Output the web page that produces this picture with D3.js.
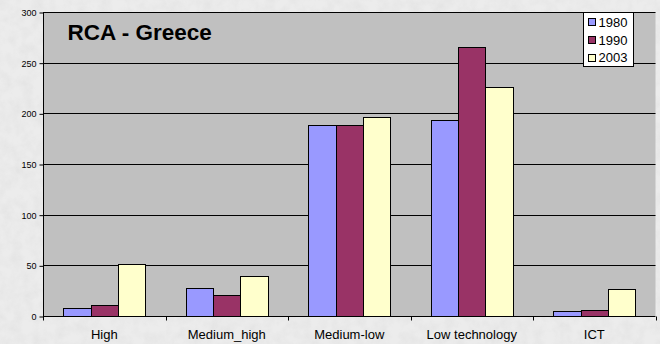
<!DOCTYPE html>
<html>
<head>
<meta charset="utf-8">
<script src="https://cdn.jsdelivr.net/npm/d3@7"></script>
<style>
html,body{margin:0;padding:0;background:#e8e8e8;}
svg{display:block;}
text{font-family:Arial,"Liberation Sans",sans-serif;}
</style>
</head>
<body>
<svg id="chart" width="660" height="344"></svg>
<script>
const categories = ["High", "Medium_high", "Medium-low", "Low technology", "ICT"];
const seriesNames = ["1980", "1990", "2003"];
const values1980 = [7.5, 28, 188.5, 193, 5];
const values1990 = [11, 20.5, 188, 265, 5.5];
const values2003 = [51, 39, 196, 225.5, 26.5];
const yTicks = [0, 50, 100, 150, 200, 250, 300];
const colors = ["#9999FF", "#993366", "#FFFFCC"];
const title = "RCA - Greece";

const series = [values1980, values1990, values2003];
const W = 660, H = 344;
const plot = {left: 43, right: 655.5, top: 12, bottom: 316};

const svg = d3.select("#chart");

// textured background
const defs = svg.append("defs");
const f = defs.append("filter").attr("id", "tex").attr("x", 0).attr("y", 0).attr("width", 1).attr("height", 1);
f.append("feTurbulence").attr("type", "fractalNoise").attr("baseFrequency", 0.09).attr("numOctaves", 3).attr("seed", 4).attr("result", "n");
f.append("feColorMatrix").attr("in", "n").attr("type", "matrix")
  .attr("values", "0 0 0 0 0.55  0 0 0 0 0.55  0 0 0 0 0.55  0.6 0 0 0 -0.2")
  .attr("result", "c");
svg.append("rect").attr("width", W).attr("height", H).attr("fill", "#ececec");
svg.append("rect").attr("width", W).attr("height", H).attr("fill", "#fff").attr("filter", "url(#tex)").attr("opacity", 0.55);

const x0 = d3.scaleBand().domain(categories).range([plot.left, plot.right]).paddingInner(0).paddingOuter(0);
const bw = x0.bandwidth() / 4.5;
const y = d3.scaleLinear().domain([0, 300]).range([plot.bottom, plot.top]);

// plot area
svg.append("rect").attr("x", plot.left).attr("y", plot.top)
  .attr("width", plot.right - plot.left).attr("height", plot.bottom - plot.top)
  .attr("fill", "#C0C0C0");

// gridlines
svg.append("g").selectAll("line").data(yTicks.filter(d => d > 0)).join("line")
  .attr("x1", plot.left).attr("x2", plot.right)
  .attr("y1", d => Math.round(y(d)) + 0.5).attr("y2", d => Math.round(y(d)) + 0.5)
  .attr("stroke", "#000").attr("stroke-width", 1);

// bars
const g = svg.append("g");
categories.forEach((c, i) => {
  series.forEach((s, j) => {
    const x = x0(c) + bw * 0.75 + j * bw;
    g.append("rect")
      .attr("x", Math.round(x) + 0.5)
      .attr("y", Math.round(y(s[i])) + 0.5)
      .attr("width", Math.round(x + bw) - Math.round(x))
      .attr("height", Math.round(y(0)) - Math.round(y(s[i])))
      .attr("fill", colors[j]).attr("stroke", "#000").attr("stroke-width", 1);
  });
});

// y axis
const yAxis = d3.axisLeft(y).tickValues(yTicks).tickSize(4).tickPadding(3);
const ya = svg.append("g").attr("transform", `translate(${plot.left + 0.5},0.5)`).call(yAxis);
ya.select(".domain").attr("stroke", "#000").attr("d", `M0,${plot.top}V${plot.bottom}`);
ya.selectAll(".tick line").attr("stroke", "#000");
ya.selectAll("text").attr("font-size", "9px").attr("fill", "#000").style("font-family", "Arial, 'Liberation Sans', sans-serif");

// x axis
const xa = svg.append("g").attr("transform", `translate(0,${plot.bottom + 0.5})`);
xa.append("line").attr("x1", plot.left).attr("x2", plot.right).attr("stroke", "#000");
const boundaries = categories.map(c => x0(c)).concat([plot.right]);
xa.selectAll("line.tk").data(boundaries).join("line").attr("class", "tk")
  .attr("x1", d => Math.round(d) + 0.5).attr("x2", d => Math.round(d) + 0.5)
  .attr("y1", 0).attr("y2", 4).attr("stroke", "#000");
xa.selectAll("text").data(categories).join("text")
  .attr("x", d => x0(d) + x0.bandwidth() / 2)
  .attr("y", 22.5)
  .attr("text-anchor", "middle").attr("font-size", "13px").attr("fill", "#000")
  .text(d => d);

// title
svg.append("text").attr("x", 67.5).attr("y", 39.5)
  .attr("font-size", "22.5px").attr("font-weight", "bold").attr("fill", "#000")
  .text(title);

// legend
const lg = svg.append("g");
lg.append("rect").attr("x", 583.5).attr("y", 12.5).attr("width", 50).attr("height", 54)
  .attr("fill", "#fff").attr("stroke", "#000");
seriesNames.forEach((n, j) => {
  const cy = 22 + j * 17.8;
  lg.append("rect").attr("x", 588.5).attr("y", Math.round(cy - 4) + 0.5).attr("width", 7).attr("height", 7)
    .attr("fill", colors[j]).attr("stroke", "#000");
  lg.append("text").attr("x", 598.5).attr("y", cy + 4.7)
    .attr("font-size", "13px").attr("fill", "#000").text(n);
});
</script>
</body>
</html>
